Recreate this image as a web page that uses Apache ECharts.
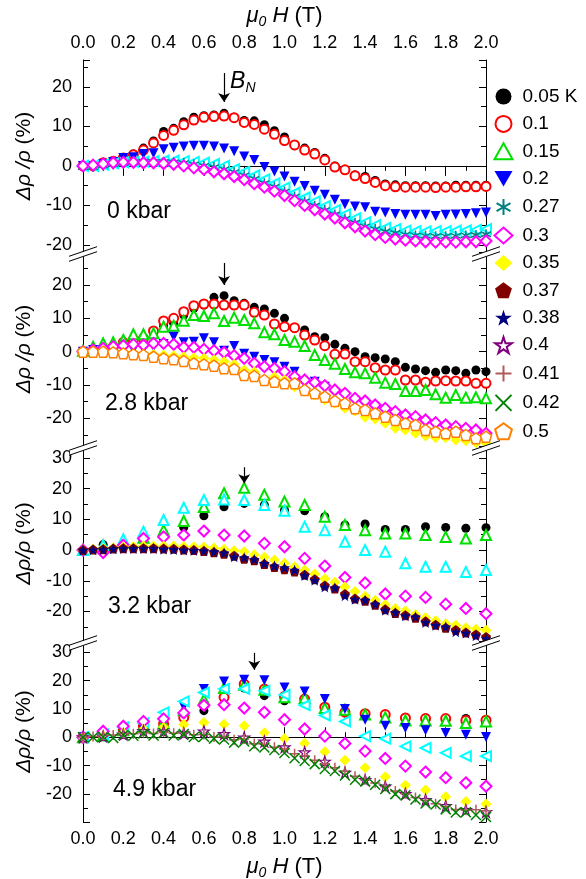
<!DOCTYPE html>
<html><head><meta charset="utf-8">
<script src="https://cdn.jsdelivr.net/npm/echarts@6/dist/echarts.min.js"></script>
<style>html,body{margin:0;padding:0;background:#fff}#c{width:586px;height:879px}</style>
</head><body><div id="c"></div>
<script>
// ---------- DATA ----------
const fields05 = [0,0.05,0.1,0.15,0.2,0.25,0.3,0.35,0.4,0.45,0.5,0.55,0.6,0.65,0.7,0.75,0.8,0.85,0.9,0.95,1.0,1.05,1.1,1.15,1.2,1.25,1.3,1.35,1.4,1.45,1.5,1.55,1.6,1.65,1.7,1.75,1.8,1.85,1.9,1.95,2.0];
const fields10 = [0,0.1,0.2,0.3,0.4,0.5,0.6,0.7,0.8,0.9,1.0,1.1,1.2,1.3,1.4,1.5,1.6,1.7,1.8,1.9,2.0];
const xTickLabels = ['0.0','0.2','0.4','0.6','0.8','1.0','1.2','1.4','1.6','1.8','2.0'];
const legendNames = ['0.05','0.1','0.15','0.2','0.27','0.3','0.35','0.37','0.38','0.4','0.41','0.42','0.5'];
const pressureLabels = ['0 kbar','2.8 kbar','3.2 kbar','4.9 kbar'];
const yRanges = [[-21.8,26.8],[-28.3,29.9],[-29.6,33.9],[-29.95,34.0]];
// B_N arrows: field, top value, tip value (per panel)
const arrowField = [0.7,0.7,0.8,0.85];
const arrowTop = [23.5,26.6,27.0,29.8];
const arrowTip = [16.2,20.0,21.8,23.8];

// Panel 1 (0 kbar)
const p1_005 = [0,0,0.5,1.1,1.9,3.0,4.5,6.3,8.7,9.5,11.2,12.3,12.7,12.9,13.3,12.3,11.5,11.4,10.4,8.9,7.3,5.1,4.5,3.4,1.9,0,-1.0,-2.3,-2.7,-3.7,-4.6,-4.8,-5.0,-5.0,-5.0,-5.1,-5.1,-4.9,-4.9,-4.9,-4.9];
const p1_01 = [0,0,0.8,1.2,2.0,2.8,4.0,5.8,7.7,9.0,10.4,11.6,12.3,12.5,12.6,12.2,11.0,10.5,9.3,8.0,6.4,5.3,4.0,3.0,1.5,-0.3,-1.0,-2.5,-3.2,-4.2,-5.0,-5.3,-5.4,-5.4,-5.4,-5.5,-5.4,-5.4,-5.3,-5.3,-5.2];
const p1_02 = [0,0,0.5,1.0,2.0,2.2,3.0,3.2,4.2,4.6,4.9,5.1,5.1,4.9,4.4,3.7,2.4,1.5,-0.3,-1.4,-2.7,-4.0,-5.1,-6.3,-7.3,-8.6,-9.7,-10.3,-10.5,-11.6,-11.8,-12.2,-12.4,-12.4,-12.4,-12.7,-12.4,-12.3,-12.2,-12.0,-11.8];
const p1_cyan = [0,0,0.3,0.6,0.9,1.0,1.1,1.2,1.3,1.3,1.2,1.0,0.8,0.5,0,-0.8,-1.5,-2.4,-3.4,-4.4,-5.5,-6.8,-8.0,-9.0,-10.2,-11.2,-12.3,-13.3,-14.3,-15.0,-15.7,-16.0,-16.4,-16.5,-16.6,-16.5,-16.5,-16.4,-16.3,-16.2,-16.0];
const p1_027 = [-0.3,-0.3,0.1,0.4,0.7,0.9,1.1,1.0,1.0,0.9,0.7,0.4,0.0,-0.3,-0.9,-1.6,-2.4,-3.3,-4.4,-5.3,-6.5,-7.8,-9.0,-10.1,-11.2,-12.3,-13.4,-14.4,-15.3,-16.0,-16.6,-17.0,-17.4,-17.6,-17.7,-17.8,-17.8,-17.7,-17.6,-17.5,-17.3];
const p1_03 = [0,0.2,0.5,0.8,0.9,0.9,0.8,0.8,0.6,0.4,0,-0.5,-0.9,-1.5,-2.0,-2.7,-3.5,-4.5,-5.4,-6.4,-7.5,-8.8,-10.0,-11.1,-12.2,-13.2,-14.4,-15.4,-16.5,-17.4,-18.1,-18.5,-18.8,-19.0,-19.2,-19.3,-19.3,-19.3,-19.2,-19.2,-19.0];

// Panel 2 (2.8 kbar)
const p2_005 = [0,0.3,0.8,1.5,2.2,2.8,3.5,5.0,7.8,8.5,11.0,13.0,14.0,16.3,16.8,15.3,14.5,13.3,12.8,11.5,10.0,7.0,6.5,4.5,4.2,2.2,1.0,0,-1.5,-1.8,-2.2,-3.0,-4.7,-5.2,-5.7,-6.2,-5.5,-5.7,-6.5,-5.5,-6.0];
const p2_01 = [0,0.3,0.8,1.5,2.8,3.5,4.0,6.2,9.2,10.0,12.0,13.8,14.3,14.3,14.0,14.0,14.0,11.8,11.0,8.3,7.5,7.2,5.0,3.5,1.8,-0.8,-0.7,-3.0,-3.0,-4.8,-5.5,-5.5,-8.5,-8.5,-9.2,-8.8,-8.7,-8.8,-8.8,-9.5,-9.5];
const p2_015 = [0.3,1.5,2.5,2.8,3.5,5.2,5.2,5.5,7.5,7.8,9.3,11.0,10.7,11.5,9.2,10.2,9.5,8.5,5.8,5.2,3.5,3.0,1.7,-1.0,-2.5,-3.6,-5.2,-6.2,-6.5,-7.8,-9.3,-9.7,-11.8,-11.8,-11.5,-12.8,-13.8,-13.0,-13.8,-13.7,-14.0];
const p2_02 = [0,0.5,0.5,0.5,0.6,0.6,0.8,1.5,2.3,4.5,2.8,3.0,4.0,2.8,0.3,1.7,-0.6,-1.5,-2.5,-3.2,-4.5,-6.0,-9.5,-9.0,-10.5];
const p2_035 = [-0.3,-0.3,-0.3,-0.4,-0.5,-0.6,-0.7,-0.8,-1.0,-1.2,-1.5,-1.8,-2.0,-2.4,-3.0,-3.8,-5.5,-6.0,-8.3,-7.5,-8.5,-10.5,-11.8,-13.0,-14.5,-15.5,-17.0,-17.8,-19.7,-20.2,-21.5,-23.0,-23.5,-24.5,-25.3,-25.8,-25.8,-26.5,-26.7,-27.3,-27.5];
const p2_05 = [0,0,0,-0.2,-0.5,-0.8,-1.0,-1.5,-2.0,-2.3,-2.8,-3.5,-3.8,-4.2,-5.0,-5.2,-7.0,-7.3,-8.5,-9.0,-9.5,-9.5,-11.5,-12.5,-13.5,-14.8,-15.5,-17.0,-17.5,-18.5,-19.5,-20.5,-21.5,-22.0,-23.5,-24.0,-24.5,-24.0,-25.0,-26.0,-25.5];
const p2_03 = [0,0.5,1.0,1.5,1.8,2.2,2.0,2.5,2.5,2.2,1.3,1.3,0.7,0.3,-0.2,-1.2,-2.0,-3.5,-4.5,-5.0,-6.0,-7.5,-8.5,-9.2,-10.2,-11.5,-12.5,-14.0,-14.8,-16.0,-17.0,-18.0,-19.0,-19.5,-20.5,-21.3,-22.0,-22.5,-23.0,-23.5,-24.5];

// Panel 3 (3.2 kbar)
const p3_005 = [0,1.8,1.0,3.0,5.5,7.4,11.2,14.1,15.2,14.7,13.0,12.8,10.9,8.2,8.5,6.7,6.7,7.6,7.4,7.1,7.3];
const p3_015 = [0,1.5,2.5,4.0,6.5,9.5,14.0,18.5,20.3,18.0,15.8,14.7,10.9,8.2,6.5,5.4,5.4,4.9,4.3,3.8,4.9];
const p3_cyan = [0,1.5,3.5,6.0,9.8,13.8,16.3,16.5,16.3,14.7,12.8,7.6,6.5,2.7,0.0,-0.5,-4.3,-5.4,-5.4,-7.1,-6.5];
const p3_03 = [0,-0.8,1.6,3.8,4.3,4.9,6.2,4.9,4.6,2.2,1.1,-2.7,-5.2,-8.9,-10.7,-14.3,-15.0,-15.4,-17.6,-19.0,-20.7];
const p3_035 = [0,0.3,0.5,0.7,1.0,1.2,1.3,1.3,1.3,1.3,1.2,1.1,1.0,0.7,0.3,-0.2,-0.5,-1.5,-2.3,-3.2,-4.3,-5.4,-6.5,-7.8,-9.3,-10.5,-12.0,-13.5,-15.0,-16.3,-17.8,-19.0,-19.8,-21.0,-22.0,-23.0,-24.0,-24.5,-25.3,-25.8,-26.1];
const p3_037 = [0,0.2,0.3,0.5,0.6,0.6,0.6,0.6,0.5,0.4,0.2,0,-0.3,-0.7,-1.2,-1.8,-2.8,-3.3,-4.5,-5.5,-6.2,-7.0,-8.0,-9.5,-11.5,-12.5,-14.3,-15.8,-16.5,-17.8,-19.3,-20.5,-21.2,-22.0,-23.2,-24.3,-25.3,-26.0,-26.8,-27.5,-28.3];
const p3_038 = [0,0.1,0.2,0.4,0.5,0.5,0.5,0.5,0.3,0.2,0,-0.1,-0.2,-0.5,-0.9,-2.2,-2.4,-3.0,-4.3,-5.1,-5.7,-6.5,-8.3,-9.8,-12.0,-12.3,-14.9,-16.0,-16.3,-17.6,-19.6,-20.3,-21.4,-21.7,-23.6,-24.5,-25.0,-26.6,-27.0,-27.9,-28.8];

// Panel 4 (4.9 kbar)
const p4_005 = [0,0.5,2.0,3.5,4.5,8.0,9.4,14.0,17.4,14.7,12.9,13.3,10.3,8.6,8.3,7.5,6.8,6.8,6.2,6.6,6.2];
const p4_01 = [0,0.6,2.7,3.9,4.7,7.0,11.5,14.1,18.8,17.0,14.4,13.5,10.6,8.9,8.3,8.0,6.8,6.6,6.6,5.9,6.0];
const p4_015 = [0,0.6,2.5,3.5,5.0,9.5,13.3,17.4,18.5,16.8,14.1,13.8,10.3,9.7,8.0,7.0,5.9,5.9,5.8,5.0,5.6];
const p4_02 = [0,0.5,2.0,3.0,5.0,10.9,17.0,19.7,20.3,20.1,17.6,16.2,13.5,10.0,6.2,4.1,3.3,2.5,1.5,0.9,0.1];
const p4_cyan = [0,1.0,3.5,5.0,8.8,12.7,15.8,17.1,17.1,16.4,15.0,11.3,7.7,5.6,0.4,-0.5,-3.2,-3.8,-5.5,-6.7,-6.7];
const p4_03 = [0,2.1,3.9,5.6,6.5,8.6,11.3,11.5,10.3,8.8,6.2,2.9,0.4,-2.2,-4.9,-7.5,-10.2,-12.3,-14.3,-16.1,-17.3];
const p4_035 = [0,0.5,1.5,2.8,3.5,4.5,5.2,4.6,4.1,1.6,-0.5,-2.1,-5.1,-8.1,-10.8,-14.0,-17.0,-18.6,-21.0,-22.7,-23.6];
const p4_04 = [0,0.3,1.0,2.2,2.1,1.4,2.1,1.2,-0.1,-1.5,-3.5,-5.3,-8.6,-12.5,-15.1,-17.4,-20.0,-22.1,-24.3,-25.7,-26.4];
const p4_041 = [0,0.3,0.6,0.8,1.2,1.2,1.6,1.3,1.8,1.4,1.6,0.9,1.0,0.1,0.2,-0.9,-0.6,-2.3,-2.5,-3.5,-4.2,-5.8,-6.5,-8.1,-9.4,-10.8,-12.0,-13.8,-15.0,-16.2,-17.4,-19.0,-20.0,-21.3,-22.3,-23.5,-24.5,-25.5,-25.8,-25.6,-26.0];
const p4_042 = [0,0,0.1,-0.3,0.8,0.5,1.3,0.6,1.5,0.6,1.1,0.1,0.2,-0.5,-0.8,-1.9,-1.5,-3.2,-3.6,-4.5,-5.6,-7.4,-8.4,-9.5,-11.2,-11.9,-13.5,-15.0,-15.6,-16.8,-18.3,-20.1,-20.5,-22.0,-23.4,-23.8,-25.5,-26.6,-26.5,-27.5,-28.2];

// ---------- STYLE ----------
const PENT = 'path://M50,0 L97.6,34.5 L79.4,90.5 L20.6,90.5 L2.4,34.5 Z';
const STAR = 'path://M50,0 L61.2,34.5 L97.6,34.5 L68.2,55.9 L79.4,90.5 L50,69.1 L20.6,90.5 L31.8,55.9 L2.4,34.5 L38.8,34.5 Z';
const DOWN = 'path://M0,0 L10,0 L5,8.66 Z';
const PLUS = 'path://M5,0 L5,10 M0,5 L10,5';
const CROSS = 'path://M0,0 L10,10 M10,0 L0,10';
const ASTER = 'path://M5,0 L5,10 M0.67,2.5 L9.33,7.5 M0.67,7.5 L9.33,2.5';
const STY = {
  '0.05': {symbol:'circle', size:9, rot:0, it:{color:'#000'}},
  '0.1':  {symbol:'emptyCircle', size:9, rot:0, it:{color:'#ff0000', borderWidth:1.5}},
  '0.15': {symbol:'emptyTriangle', size:10, rot:0, it:{color:'#00e000', borderWidth:1.3}},
  '0.2':  {symbol:DOWN, size:10, rot:0, it:{color:'#0000ff'}},
  '0.27': {symbol:ASTER, size:10, rot:0, it:{color:'none', borderColor:'#008080', borderWidth:1.5}},
  '0.3':  {symbol:'emptyDiamond', size:11, rot:0, it:{color:'#ff00ff', borderWidth:1.5}},
  '0.35': {symbol:'diamond', size:11, rot:0, it:{color:'#ffff00'}},
  '0.37': {symbol:PENT, size:10, rot:0, it:{color:'#800000'}},
  '0.38': {symbol:STAR, size:11, rot:0, it:{color:'#000080'}},
  '0.4':  {symbol:STAR, size:11, rot:0, it:{color:'#ffffff', borderColor:'#800080', borderWidth:1.2}},
  '0.41': {symbol:PLUS, size:10, rot:0, it:{color:'none', borderColor:'#b05a5a', borderWidth:1.5}},
  '0.42': {symbol:CROSS, size:10, rot:0, it:{color:'none', borderColor:'#008000', borderWidth:1.5}},
  '0.5':  {symbol:PENT, size:11, rot:0, it:{color:'#ffffff', borderColor:'#ff8000', borderWidth:1.5}},
  'cyanL': {symbol:'emptyTriangle', size:10, rot:90, it:{color:'#00ffff', borderWidth:1.3}},
  'cyanU': {symbol:'emptyTriangle', size:10, rot:0, it:{color:'#00ffff', borderWidth:1.3}}
};
const PANELS = [
  [['0.05',fields05,p1_005],['0.1',fields05,p1_01],['0.2',fields05,p1_02],['cyanL',fields05,p1_cyan],['0.27',fields05,p1_027],['0.3',fields05,p1_03]],
  [['0.05',fields05,p2_005],['0.1',fields05,p2_01],['0.15',fields05,p2_015],['0.2',fields05,p2_02],['0.3',fields05,p2_03],['0.35',fields05,p2_035],['0.5',fields05,p2_05]],
  [['0.05',fields10,p3_005],['0.15',fields10,p3_015],['cyanU',fields10,p3_cyan],['0.3',fields10,p3_03],['0.35',fields05,p3_035],['0.37',fields05,p3_037],['0.38',fields05,p3_038]],
  [['0.05',fields10,p4_005],['0.1',fields10,p4_01],['0.15',fields10,p4_015],['0.2',fields10,p4_02],['cyanL',fields10,p4_cyan],['0.3',fields10,p4_03],['0.35',fields10,p4_035],['0.4',fields10,p4_04],['0.41',fields05,p4_041],['0.42',fields05,p4_042]]
];

// ---------- LAYOUT ----------
const LEFT = 83, RIGHT = 100;
const GRIDS = [{top:60,height:192},{top:252,height:194},{top:446,height:195},{top:641,height:181}];
const FONT = '"Liberation Sans", Arial, sans-serif';
const black = {color:'#000', width:1};
const muName = '{m|μ}{s|0}{h| H} (T)';
const muRich = {m:{fontStyle:'italic',fontSize:22,fontFamily:FONT}, s:{fontStyle:'italic',fontSize:14,fontFamily:FONT,padding:[13,0,0,0]}, h:{fontStyle:'italic',fontSize:22,fontFamily:FONT}};
const yNames = ['{i|Δρ /ρ} (%)','{i|Δρ /ρ} (%)','{i|Δρ/ρ} (%)','{i|Δρ/ρ} (%)'];

const grid = GRIDS.map(g => ({left:LEFT, right:RIGHT, top:g.top, height:g.height, outerBoundsMode:'none'}));
const xAxis = GRIDS.map((g,i) => ({
  gridIndex:i, type:'value', min:0, max:2, interval:0.2,
  position: i===0 ? 'top' : 'bottom', show: i===0 || i===3,
  axisLine:{show:true, lineStyle:black},
  axisTick:{show:true, inside:true, length:10, lineStyle:black},
  minorTick:{show:true, splitNumber:2, length:5, lineStyle:black},
  splitLine:{show:false},
  axisLabel:{fontSize:18, color:'#000', fontFamily:FONT, margin:8, formatter:v => xTickLabels[Math.round(v/0.2)]},
  name: muName, nameLocation:'middle', nameGap: 31,
  nameTextStyle:{fontSize:22, color:'#000', fontFamily:FONT, rich:muRich}
}));
const yAxis = [];
GRIDS.forEach((g,i) => {
  const base = {gridIndex:i, type:'value', min:yRanges[i][0], max:yRanges[i][1], splitNumber:5,
    axisLine:{show:true, onZero:false, lineStyle:black},
    axisTick:{show:true, inside:true, length:7, lineStyle:black},
    minorTick:{show:true, splitNumber:2, length:5, lineStyle:black},
    splitLine:{show:false}};
  yAxis.push(Object.assign({}, base, {position:'left',
    axisLabel:{fontSize:18, color:'#000', fontFamily:FONT, margin:11, showMinLabel:false, showMaxLabel:false},
    name: yNames[i], nameLocation:'middle', nameGap:46, nameRotate:90,
    nameTextStyle:{fontSize:21, color:'#000', fontFamily:FONT, rich:{i:{fontStyle:'italic', fontSize:21, fontFamily:FONT}}}}));
  yAxis.push(Object.assign({}, base, {position:'right', axisLabel:{show:false}}));
});

const series = [];
PANELS.forEach((list,p) => {
  list.forEach(([key,xs,ys],k) => {
    const st = STY[key];
    const s = {
      type:'scatter', name: key, xAxisIndex:p, yAxisIndex:2*p,
      symbol: st.symbol, symbolSize: st.size, symbolRotate: st.rot,
      itemStyle: Object.assign({opacity:1}, st.it),
      emphasis:{disabled:true}, silent:true,
      data: ys.map((v,j) => [xs[j], v]), z: 2 + k
    };
    if (k === 0) {
      s.markLine = {silent:true, symbol:['none','arrow'], symbolSize:9, animation:false,
        lineStyle:{color:'#000', width:1.2, type:'solid'}, label:{show:false},
        data:[[{coord:[arrowField[p], arrowTop[p]]},{coord:[arrowField[p], arrowTip[p]]}]]};
      if (p === 0) {
        s.markPoint = {silent:true, symbol:'circle', symbolSize:0, animation:false,
          label:{show:true, position:'right', distance:6, color:'#000',
            formatter:'{b|B}{n|N}',
            rich:{b:{fontStyle:'italic', fontSize:23, fontFamily:FONT}, n:{fontStyle:'italic', fontSize:14, fontFamily:FONT, padding:[14,0,0,0]}}},
          data:[{coord:[arrowField[0], (arrowTop[0]+arrowTip[0])/2 + 1.5]}]};
      }
    }
    series.push(s);
  });
});

// break marks and panel labels
const graphic = [];
const boundaries = [252,446,641];
[LEFT, 586-RIGHT].forEach(ax => {
  boundaries.forEach(b => {
    graphic.push({type:'polygon', silent:true, z:100, shape:{points:[[ax-13,b+4],[ax+13,b-5],[ax+13,b+0],[ax-13,b+9]]}, style:{fill:'#fff', stroke:null}});
    graphic.push({type:'line', silent:true, z:101, shape:{x1:ax-14,y1:b+4.3,x2:ax+14,y2:b-5.3}, style:{stroke:'#000', lineWidth:1}});
    graphic.push({type:'line', silent:true, z:101, shape:{x1:ax-14,y1:b+9.3,x2:ax+14,y2:b-0.3}, style:{stroke:'#000', lineWidth:1}});
  });
});
const labelPos = [[107,212],[105,404],[108,607],[113,790]];
pressureLabels.forEach((t,i) => {
  graphic.push({type:'text', silent:true, z:50, left:labelPos[i][0], top:labelPos[i][1]-12,
    style:{text:t, fontSize:23, fontFamily:FONT, fill:'#000'}});
});

const option = {
  animation:false,
  textStyle:{fontFamily:FONT},
  grid, xAxis, yAxis, series, graphic,
  legend:{orient:'vertical', left:488, top:82, itemWidth:18, itemHeight:16, itemGap:8.4,
    data: legendNames, selectedMode:false,
    textStyle:{fontSize:19, color:'#000', fontFamily:FONT, padding:[0,0,0,5]},
    formatter: n => n === '0.05' ? '0.05 K' : n}
};
const chart = echarts.init(document.getElementById('c'), null, {renderer:'canvas'});
chart.setOption(option);
</script></body></html>
